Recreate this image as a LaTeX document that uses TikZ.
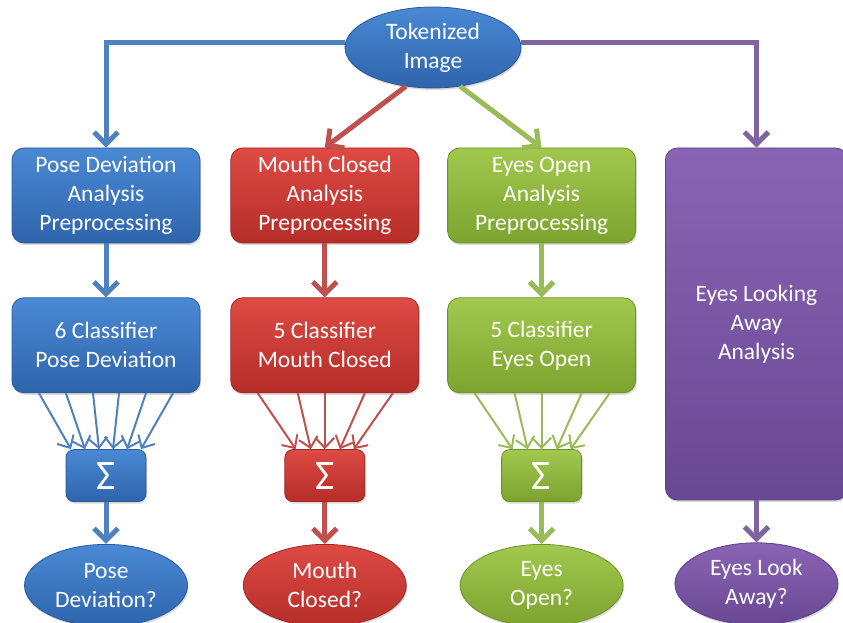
\documentclass[tikz,border=0pt]{standalone}
\usepackage{fontspec}
\setmainfont{Carlito}
\usepackage{tikz}
\usetikzlibrary{positioning}
\usetikzlibrary{shapes.geometric}
\usetikzlibrary{arrows.meta}
\usetikzlibrary{shadows}

\definecolor{bluetop}{HTML}{4A89D4}
\definecolor{bluebot}{HTML}{2E64AC}
\definecolor{blueline}{HTML}{2A5A9A}
\definecolor{bluearr}{HTML}{4F81BD}
\definecolor{redtop}{HTML}{DE4A44}
\definecolor{redbot}{HTML}{B52D29}
\definecolor{redline}{HTML}{9E2724}
\definecolor{redarr}{HTML}{C0504D}
\definecolor{greentop}{HTML}{A2C94E}
\definecolor{greenbot}{HTML}{7BA32E}
\definecolor{greenline}{HTML}{6E922A}
\definecolor{greenarr}{HTML}{9BBB59}
\definecolor{purpletop}{HTML}{8A64B4}
\definecolor{purplebot}{HTML}{694893}
\definecolor{purpleline}{HTML}{5E4184}
\definecolor{purplearr}{HTML}{8064A2}

\begin{document}
\begin{tikzpicture}[
    x=1pt, y=1pt,
    node distance=54pt and 29pt,
    txt/.style={text=white, font=\fontsize{23.5}{29}\selectfont, align=center},
    paint/.style={top color=#1top, bottom color=#1bot, draw=#1line, line width=0.8pt},
    shade/.style={drop shadow={opacity=0.3, shadow xshift=1pt, shadow yshift=-2pt}},
    stagebox/.style={rectangle, rounded corners=12pt, minimum width=188pt, minimum height=95pt, inner sep=0pt, txt, shade},
    sumbox/.style={rectangle, rounded corners=8pt, minimum width=80pt, minimum height=52pt, inner sep=0pt, text=white, font=\fontsize{42}{42}\selectfont, shade},
    answer/.style={ellipse, minimum width=163pt, minimum height=82pt, inner sep=0pt, txt, shade},
    flow/.style={line width=5pt, -{Straight Barb[length=12pt,width=24pt]}},
    fan/.style={line width=2pt, -{Straight Barb[length=10pt,width=19pt]}}
]
\useasboundingbox (0,0) rectangle (843,623);

% Source image
\node[answer, paint=blue, minimum width=176pt, minimum height=81pt] (img) at (433,575.5) {Tokenized\\Image};

% Preprocessing row
\node[stagebox, paint=blue] (posepre) at (106,427.5) {Pose Deviation\\Analysis\\Preprocessing};
\node[stagebox, paint=red, right=30pt of posepre] (mouthpre) {Mouth Closed\\Analysis\\Preprocessing};
\node[stagebox, paint=green, right=28pt of mouthpre] (eyespre) {Eyes Open\\Analysis\\Preprocessing};
\node[stagebox, paint=purple, minimum width=182pt, minimum height=352pt,
      right=29pt of eyespre.north east, anchor=north west] (lookpre) {Eyes Looking\\Away\\Analysis};

% Classifier row
\node[stagebox, paint=blue, below=of posepre] (posecls) {6 Classifier\\Pose Deviation};
\node[stagebox, paint=red, below=of mouthpre] (mouthcls) {5 Classifier\\Mouth Closed};
\node[stagebox, paint=green, below=of eyespre] (eyescls) {5 Classifier\\Eyes Open};

% Sums
\node[sumbox, paint=blue, below=56pt of posecls] (posesum) {Σ};
\node[sumbox, paint=red, below=56pt of mouthcls] (mouthsum) {Σ};
\node[sumbox, paint=green, below=56pt of eyescls] (eyessum) {Σ};

% Answers
\node[answer, paint=blue, below=42pt of posesum] (poseq) {Pose\\Deviation?};
\node[answer, paint=red, below=42pt of mouthsum] (mouthq) {Mouth\\Closed?};
\node[answer, paint=green, below=42pt of eyessum] (eyesq) {Eyes\\Open?};
\node[answer, paint=purple, below=42pt of lookpre] (lookq) {Eyes Look\\Away?};

% From the image
\draw[flow, bluearr] ([yshift=5pt]img.west) -| (posepre.north);
\draw[flow, purplearr] ([yshift=5pt]img.east) -| (lookpre.north);
\draw[flow, redarr] (img.235) -- (mouthpre.north);
\draw[flow, greenarr] (img.305) -- (eyespre.north);

% Down the columns
\draw[flow, bluearr] (posepre) -- (posecls);
\draw[flow, redarr] (mouthpre) -- (mouthcls);
\draw[flow, greenarr] (eyespre) -- (eyescls);

\foreach \s/\e in {-67/-35,-40/-21,-13/-7,13/7,40/21,67/35}
  \draw[fan, bluearr] ([xshift=\s pt]posecls.south) -- ([xshift=\e pt]posesum.north);
\foreach \s/\e in {-67/-29,-27/-14,0/0,40/15,68/29}
  \draw[fan, redarr] ([xshift=\s pt]mouthcls.south) -- ([xshift=\e pt]mouthsum.north);
\foreach \s/\e in {-67/-29,-27/-14,0/0,40/15,68/29}
  \draw[fan, greenarr] ([xshift=\s pt]eyescls.south) -- ([xshift=\e pt]eyessum.north);

\draw[flow, bluearr] (posesum) -- (poseq);
\draw[flow, redarr] (mouthsum) -- (mouthq);
\draw[flow, greenarr] (eyessum) -- (eyesq);
\draw[flow, purplearr] (lookpre) -- (lookq);
\end{tikzpicture}
\end{document}
